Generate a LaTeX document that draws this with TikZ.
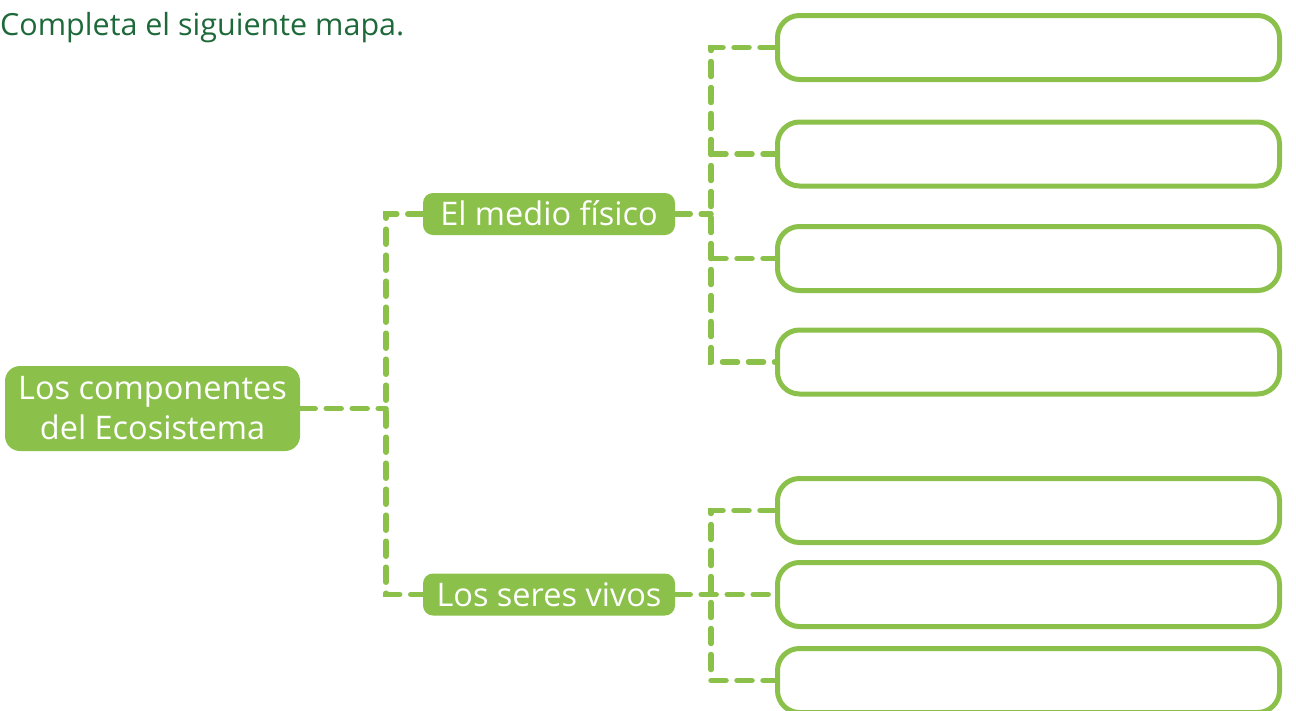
\documentclass[tikz,border=0pt]{standalone}
\usepackage{fontspec}
\setmainfont{Open Sans}
\definecolor{leaf}{RGB}{139,193,74}
\definecolor{titlegreen}{RGB}{30,105,58}
\tikzset{
  topic/.style={fill=leaf, text=white, rounded corners=10pt, inner sep=0pt, font=\fontsize{32.5}{40}\selectfont},
  blank/.style={draw=leaf, line width=5pt, rounded corners=22pt, minimum width=502pt, minimum height=64pt, inner sep=0pt},
  link/.style={draw=leaf, line width=5.5pt, line cap=round, dash pattern=on 15pt off 11pt}
}
\begin{document}
\begin{tikzpicture}[x=1pt, y=-1pt]
    \useasboundingbox (0,0) rectangle (1296,710);

    % Instruction at the top left
    \node[anchor=base west, inner sep=0pt, text=titlegreen, font=\fontsize{30.5}{36}\selectfont] (title) at (0,35) {Completa el siguiente mapa.};

    % Main topic and the two branches
    \node[topic, rounded corners=15pt, minimum width=295pt, minimum height=85pt, align=center] (root) at (152.5,408.5) {Los componentes\\del Ecosistema};
    \node[topic, minimum width=252pt, minimum height=42pt, text height=23pt, text depth=0pt] (medio) at (549,214) {El medio físico};
    \node[topic, minimum width=252pt, minimum height=42pt, text height=23pt, text depth=0pt] (seres) at (549,594.5) {Los seres vivos};

    % Empty boxes to fill in
    \foreach \name/\y in {b1/47.5, b2/154, b3/258.5, b4/362, b5/510.5, b6/594.5, b7/680.5}
        \node[blank] (\name) at (1028.5,\y) {};

    % Columns of the dashed brackets
    \coordinate (busA) at (386,0);
    \coordinate (busB) at (711,0);

    % Dashed connectors
    \draw[link] (root.east) -- (root.east -| busA);
    \draw[link] (medio.west) -- (medio.west -| busA) -- (seres.west -| busA) -- (seres.west);
    \draw[link] (medio.east) -- (medio.east -| busB);
    \draw[link] (b1.west) -- (b1.west -| busB) -- (b4.west -| busB) -- (b4.west);
    \draw[link] (busB |- b2.west) -- (b2.west);
    \draw[link] (busB |- b3.west) -- (b3.west);
    \draw[link] (seres.east) -- (b6.west);
    \draw[link] (b5.west) -- (b5.west -| busB) -- (b7.west -| busB) -- (b7.west);
\end{tikzpicture}
\end{document}
